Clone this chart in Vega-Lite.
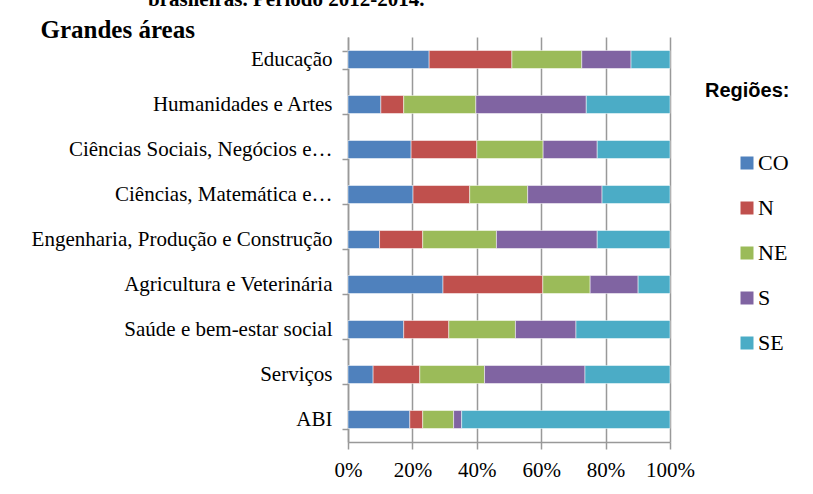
{
  "$schema": "https://vega.github.io/schema/vega-lite/v6.json",
  "width": 322,
  "height": 405,
  "autosize": {"type": "none"},
  "padding": {"left": 348, "top": 37, "right": 143, "bottom": 52},
  "background": "white",
  "title": {"text": "brasileiras. Período 2012-2014.", "anchor": "start", "frame": "group", "dx": -200, "dy": 10, "offset": 0, "baseline": "alphabetic", "font": "Liberation Serif", "fontSize": 21, "fontWeight": "bold", "color": "black"},
  "data": {"values": [
    {"area": "Educação", "regiao": "CO", "valor": 25.2},
    {"area": "Educação", "regiao": "N", "valor": 25.7},
    {"area": "Educação", "regiao": "NE", "valor": 21.7},
    {"area": "Educação", "regiao": "S", "valor": 15.3},
    {"area": "Educação", "regiao": "SE", "valor": 12.1},
    {"area": "Humanidades e Artes", "regiao": "CO", "valor": 10.2},
    {"area": "Humanidades e Artes", "regiao": "N", "valor": 7.1},
    {"area": "Humanidades e Artes", "regiao": "NE", "valor": 22.4},
    {"area": "Humanidades e Artes", "regiao": "S", "valor": 34.3},
    {"area": "Humanidades e Artes", "regiao": "SE", "valor": 26.0},
    {"area": "Ciências Sociais, Negócios e…", "regiao": "CO", "valor": 19.6},
    {"area": "Ciências Sociais, Negócios e…", "regiao": "N", "valor": 20.4},
    {"area": "Ciências Sociais, Negócios e…", "regiao": "NE", "valor": 20.6},
    {"area": "Ciências Sociais, Negócios e…", "regiao": "S", "valor": 16.8},
    {"area": "Ciências Sociais, Negócios e…", "regiao": "SE", "valor": 22.6},
    {"area": "Ciências, Matemática e…", "regiao": "CO", "valor": 20.2},
    {"area": "Ciências, Matemática e…", "regiao": "N", "valor": 17.6},
    {"area": "Ciências, Matemática e…", "regiao": "NE", "valor": 18.0},
    {"area": "Ciências, Matemática e…", "regiao": "S", "valor": 23.1},
    {"area": "Ciências, Matemática e…", "regiao": "SE", "valor": 21.1},
    {"area": "Engenharia, Produção e Construção", "regiao": "CO", "valor": 9.8},
    {"area": "Engenharia, Produção e Construção", "regiao": "N", "valor": 13.4},
    {"area": "Engenharia, Produção e Construção", "regiao": "NE", "valor": 22.9},
    {"area": "Engenharia, Produção e Construção", "regiao": "S", "valor": 31.3},
    {"area": "Engenharia, Produção e Construção", "regiao": "SE", "valor": 22.6},
    {"area": "Agricultura e Veterinária", "regiao": "CO", "valor": 29.5},
    {"area": "Agricultura e Veterinária", "regiao": "N", "valor": 31.0},
    {"area": "Agricultura e Veterinária", "regiao": "NE", "valor": 14.7},
    {"area": "Agricultura e Veterinária", "regiao": "S", "valor": 14.9},
    {"area": "Agricultura e Veterinária", "regiao": "SE", "valor": 9.9},
    {"area": "Saúde e bem-estar social", "regiao": "CO", "valor": 17.3},
    {"area": "Saúde e bem-estar social", "regiao": "N", "valor": 14.0},
    {"area": "Saúde e bem-estar social", "regiao": "NE", "valor": 20.7},
    {"area": "Saúde e bem-estar social", "regiao": "S", "valor": 18.8},
    {"area": "Saúde e bem-estar social", "regiao": "SE", "valor": 29.2},
    {"area": "Serviços", "regiao": "CO", "valor": 7.8},
    {"area": "Serviços", "regiao": "N", "valor": 14.5},
    {"area": "Serviços", "regiao": "NE", "valor": 20.1},
    {"area": "Serviços", "regiao": "S", "valor": 31.2},
    {"area": "Serviços", "regiao": "SE", "valor": 26.4},
    {"area": "ABI", "regiao": "CO", "valor": 19.2},
    {"area": "ABI", "regiao": "N", "valor": 4.0},
    {"area": "ABI", "regiao": "NE", "valor": 9.6},
    {"area": "ABI", "regiao": "S", "valor": 2.5},
    {"area": "ABI", "regiao": "SE", "valor": 64.7}
  ]},
  "mark": {"type": "bar", "stroke": "white", "strokeWidth": 0.5},
  "encoding": {
    "y": {
      "field": "area", "type": "nominal",
      "sort": ["Educação", "Humanidades e Artes", "Ciências Sociais, Negócios e…", "Ciências, Matemática e…", "Engenharia, Produção e Construção", "Agricultura e Veterinária", "Saúde e bem-estar social", "Serviços", "ABI"],
      "scale": {"paddingInner": 0.6, "paddingOuter": 0.3},
      "axis": {
        "title": "Grandes áreas", "titleAngle": 0, "titleX": -308, "titleY": 0, "titleAlign": "left", "titleBaseline": "alphabetic",
        "titleFont": "Liberation Serif", "titleFontSize": 25, "titleFontWeight": "bold", "titleColor": "black",
        "labelFont": "Liberation Serif", "labelFontSize": 21, "labelColor": "black", "labelPadding": 10, "labelLimit": 400,
        "tickBand": "extent", "tickSize": 6, "tickColor": "#999999", "tickWidth": 1.5,
        "domainColor": "#999999", "domainWidth": 1.5, "grid": false
      }
    },
    "x": {
      "field": "valor", "type": "quantitative", "stack": "normalize",
      "scale": {"domain": [0, 1]},
      "axis": {
        "title": null, "values": [0, 0.2, 0.4, 0.6, 0.8, 1], "format": ".0%",
        "grid": true, "gridColor": "#999999", "gridWidth": 1.5,
        "domainColor": "#999999", "domainWidth": 1.5,
        "tickColor": "#999999", "tickWidth": 1.5, "tickSize": 7,
        "labelFont": "Liberation Serif", "labelFontSize": 21, "labelColor": "black", "labelPadding": 10, "labelFlush": false
      }
    },
    "color": {
      "field": "regiao", "type": "nominal",
      "scale": {"domain": ["CO", "N", "NE", "S", "SE"], "range": ["#4F81BD", "#C0504D", "#9BBB59", "#8064A2", "#4BACC6"]},
      "legend": {
        "orient": "none", "legendX": 357, "legendY": 44, "padding": 0,
        "title": "Regiões:", "titleFont": "Liberation Sans", "titleFontSize": 20, "titleFontWeight": "bold", "titleColor": "black", "titlePadding": 51,
        "symbolType": "square", "symbolSize": 169, "symbolStrokeWidth": 0, "symbolOpacity": 1, "symbolOffset": 31,
        "labelFont": "Liberation Serif", "labelFontSize": 22, "labelColor": "black", "labelOffset": 0, "rowPadding": 23
      }
    }
  },
  "config": {"view": {"stroke": null}}
}
